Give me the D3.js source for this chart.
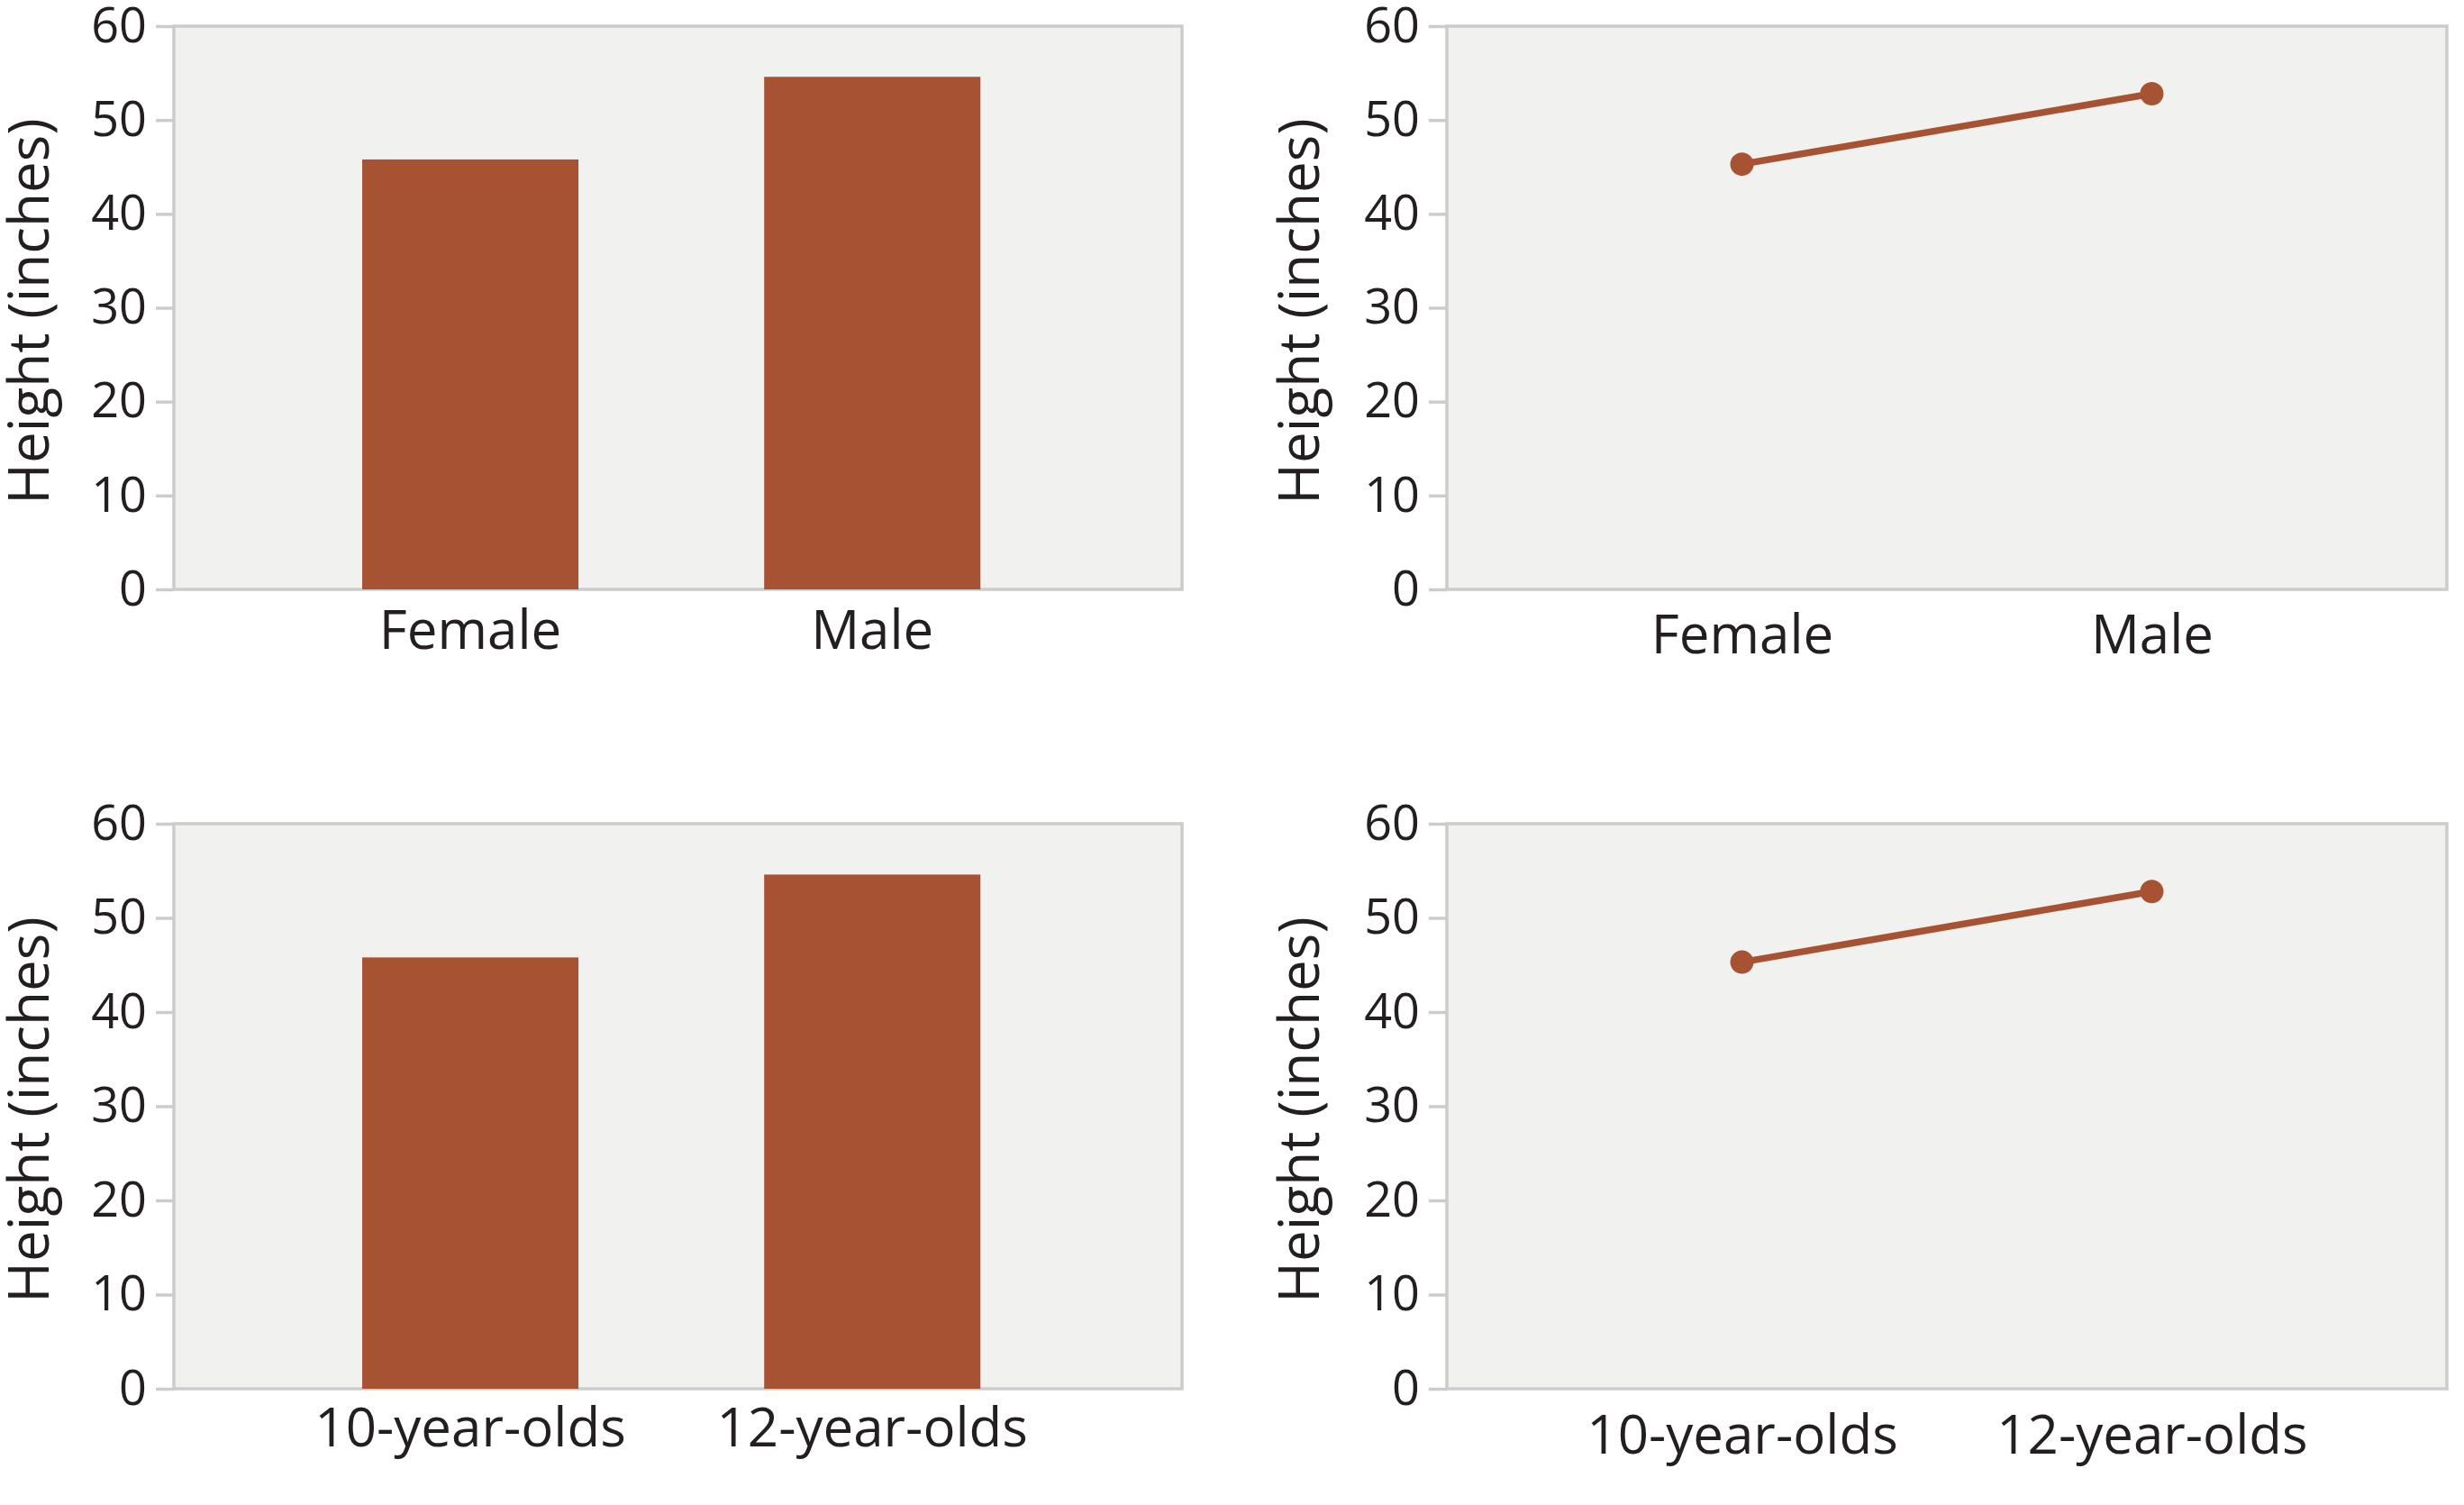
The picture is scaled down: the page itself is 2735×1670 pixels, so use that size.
<!DOCTYPE html>
<html>
<head>
<meta charset="utf-8">
<script src="https://d3js.org/d3.v7.min.js"></script>
<style>
  body { margin: 0; background: #fff; }
  text { font-family: "Open Sans", "Noto Sans", sans-serif; fill: #231f20; }
</style>
</head>
<body>
<div id="chart"></div>
<script>
// data
var sexCats = ["Female", "Male"];
var ageCats = ["10-year-olds", "12-year-olds"];
var barValues = [45.8, 54.6];
var lineValues = [45.3, 52.8];
var yTicks = [0, 10, 20, 30, 40, 50, 60];
var yTitle = "Height (inches)";

var W = 2735, H = 1670;
var barColor = "#a65233", bg = "#f1f1f0", border = "#cccccb";

var svg = d3.select("#chart").append("svg")
    .attr("width", W)
    .attr("height", H);

// panel boxes
var panels = [
  {cats: sexCats, kind: "bar",  x0: 193,  x1: 1312, y0: 29,  y1: 654,  titleX: 30,   labPad: 23},
  {cats: sexCats, kind: "line", x0: 1606, x1: 2716, y0: 29,  y1: 654,  titleX: 1440, labPad: 28},
  {cats: ageCats, kind: "bar",  x0: 193,  x1: 1312, y0: 914, y1: 1541, titleX: 30,   labPad: 21},
  {cats: ageCats, kind: "line", x0: 1606, x1: 2716, y0: 914, y1: 1541, titleX: 1440, labPad: 29}
];

panels.forEach(function(p) {
  var g = svg.append("g");
  var y = d3.scaleLinear().domain([0, 60]).range([p.y1, p.y0]);

  g.append("rect")
      .attr("x", p.x0).attr("y", p.y0)
      .attr("width", p.x1 - p.x0).attr("height", p.y1 - p.y0)
      .attr("fill", bg)
      .attr("stroke", border)
      .attr("stroke-width", 3.5);

  var x;
  if (p.kind == "bar") {
    x = d3.scaleBand().domain(p.cats).range([p.x0, p.x1])
        .paddingInner(0.462).paddingOuter(0.485).align(0.483);
    g.selectAll(".bar")
      .data(barValues)
      .enter().append("rect")
        .attr("x", function(d, i) { return x(p.cats[i]); })
        .attr("y", function(d) { return y(d); })
        .attr("width", x.bandwidth())
        .attr("height", function(d) { return y(0) - y(d); })
        .attr("fill", barColor);
  } else {
    x = d3.scalePoint().domain(p.cats).range([p.x0, p.x1]).padding(0.72);
    var line = d3.line()
        .x(function(d, i) { return x(p.cats[i]); })
        .y(function(d) { return y(d); });
    g.append("path")
        .datum(lineValues)
        .attr("d", line)
        .attr("fill", "none")
        .attr("stroke", barColor)
        .attr("stroke-width", 7.5);
    g.selectAll(".pt")
      .data(lineValues)
      .enter().append("circle")
        .attr("cx", function(d, i) { return x(p.cats[i]); })
        .attr("cy", function(d) { return y(d); })
        .attr("r", 13)
        .attr("fill", barColor);
  }

  // y axis
  var yAxis = g.append("g")
      .attr("transform", "translate(" + p.x0 + ",0)")
      .call(d3.axisLeft(y).tickValues(yTicks).tickSize(20).tickPadding(10));
  yAxis.select(".domain").remove();
  yAxis.selectAll(".tick line").attr("stroke", border).attr("stroke-width", 3.5);
  yAxis.selectAll(".tick text")
      .style("font-size", "54px")
      .attr("fill", "#231f20");

  // x axis labels
  var xAxis = g.append("g")
      .attr("transform", "translate(0," + p.y1 + ")")
      .call(d3.axisBottom(x).tickSize(0).tickPadding(p.labPad));
  xAxis.select(".domain").remove();
  xAxis.selectAll(".tick text")
      .style("font-size", "60px")
      .attr("fill", "#231f20");

  g.append("text")
      .attr("transform", "translate(" + p.titleX + "," + ((p.y0 + p.y1) / 2 + 4) + ") rotate(-90)")
      .attr("text-anchor", "middle")
      .attr("dominant-baseline", "central")
      .style("font-size", "62px")
      .text(yTitle);
});
</script>
</body>
</html>
